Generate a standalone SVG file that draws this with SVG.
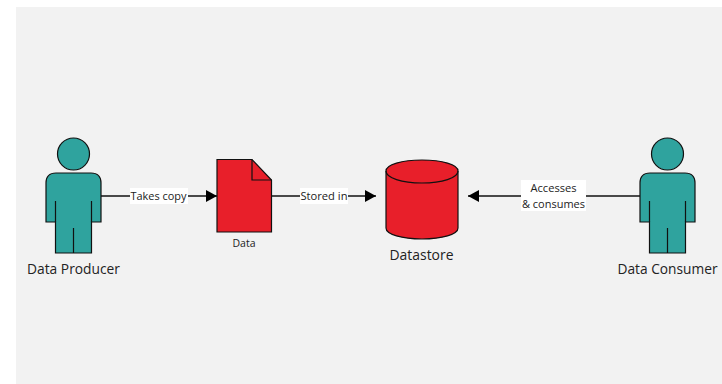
<svg xmlns="http://www.w3.org/2000/svg" width="722" height="384" viewBox="0 0 722 384">
<style>
.s{stroke:#111;stroke-width:1.2}
.teal{fill:#2fa39e}
.red{fill:#e81f2a}
.n{fill:none}
text{font-family:"Open Sans","Noto Sans","Liberation Sans",sans-serif;fill:#222;text-anchor:middle}
.big{font-size:14.500px}
.sm{font-size:11px}
.c{stroke:#111;stroke-width:1.5;fill:none}
</style>
<defs>
<g id="person">
<circle class="s teal" cx="73.5" cy="154" r="16"/>
<path class="s teal" d="M55.500 253V222H46V183Q46 173 56 173H91Q101 173 101 183V222H91.500V253Z"/>
<path class="s n" d="M55.500 201V222M91.500 201V222M73.500 228V253"/>
</g>
<marker id="a" markerUnits="userSpaceOnUse" markerWidth="11" markerHeight="12" refX="11" refY="6" orient="auto"><path d="M0 0L11 6L0 12Z" fill="#000"/></marker>
</defs>
<rect x="16" y="7" width="706" height="377" fill="#f2f2f2"/>
<g id="connectors">
<path class="c" d="M101 196H217" marker-end="url(#a)"/>
<path class="c" d="M271.500 196H376" marker-end="url(#a)"/>
<path class="c" d="M640 196H468" marker-end="url(#a)"/>
<rect x="130" y="188" width="58" height="16" fill="#fff"/>
<rect x="300" y="188" width="48" height="16" fill="#fff"/>
<rect x="521" y="180" width="65" height="31" fill="#fff"/>
<text class="sm" x="158.500" y="200" textLength="56" lengthAdjust="spacingAndGlyphs">Takes copy</text>
<text class="sm" x="324" y="200" textLength="47" lengthAdjust="spacingAndGlyphs">Stored in</text>
<text class="sm" x="553.500" y="192" textLength="46" lengthAdjust="spacingAndGlyphs">Accesses</text>
<text class="sm" x="553.500" y="208" textLength="63" lengthAdjust="spacingAndGlyphs">&amp; consumes</text>
</g>
<g id="producer">
<use href="#person"/>
<text class="big" x="73.500" y="274" textLength="93" lengthAdjust="spacingAndGlyphs">Data Producer</text>
</g>
<g id="data">
<path class="s red" d="M217 159.500H252L271.500 180V232H217Z"/>
<path class="s n" d="M252 159.500V180H271.500"/>
<text class="sm" x="244" y="247" textLength="23" lengthAdjust="spacingAndGlyphs">Data</text>
</g>
<g id="datastore">
<path class="s red" d="M386 171V228C386 234.500 402 239 422 239S458 234.500 458 228V171C458 164.500 442 160 422 160S386 164.500 386 171Z"/>
<path class="s n" d="M386 171C386 178 402 183 422 183S458 178 458 171"/>
<text class="big" x="421.500" y="260" textLength="64" lengthAdjust="spacingAndGlyphs">Datastore</text>
</g>
<g id="consumer">
<use href="#person" x="594"/>
<text class="big" x="667.500" y="274" textLength="100" lengthAdjust="spacingAndGlyphs">Data Consumer</text>
</g>
</svg>
